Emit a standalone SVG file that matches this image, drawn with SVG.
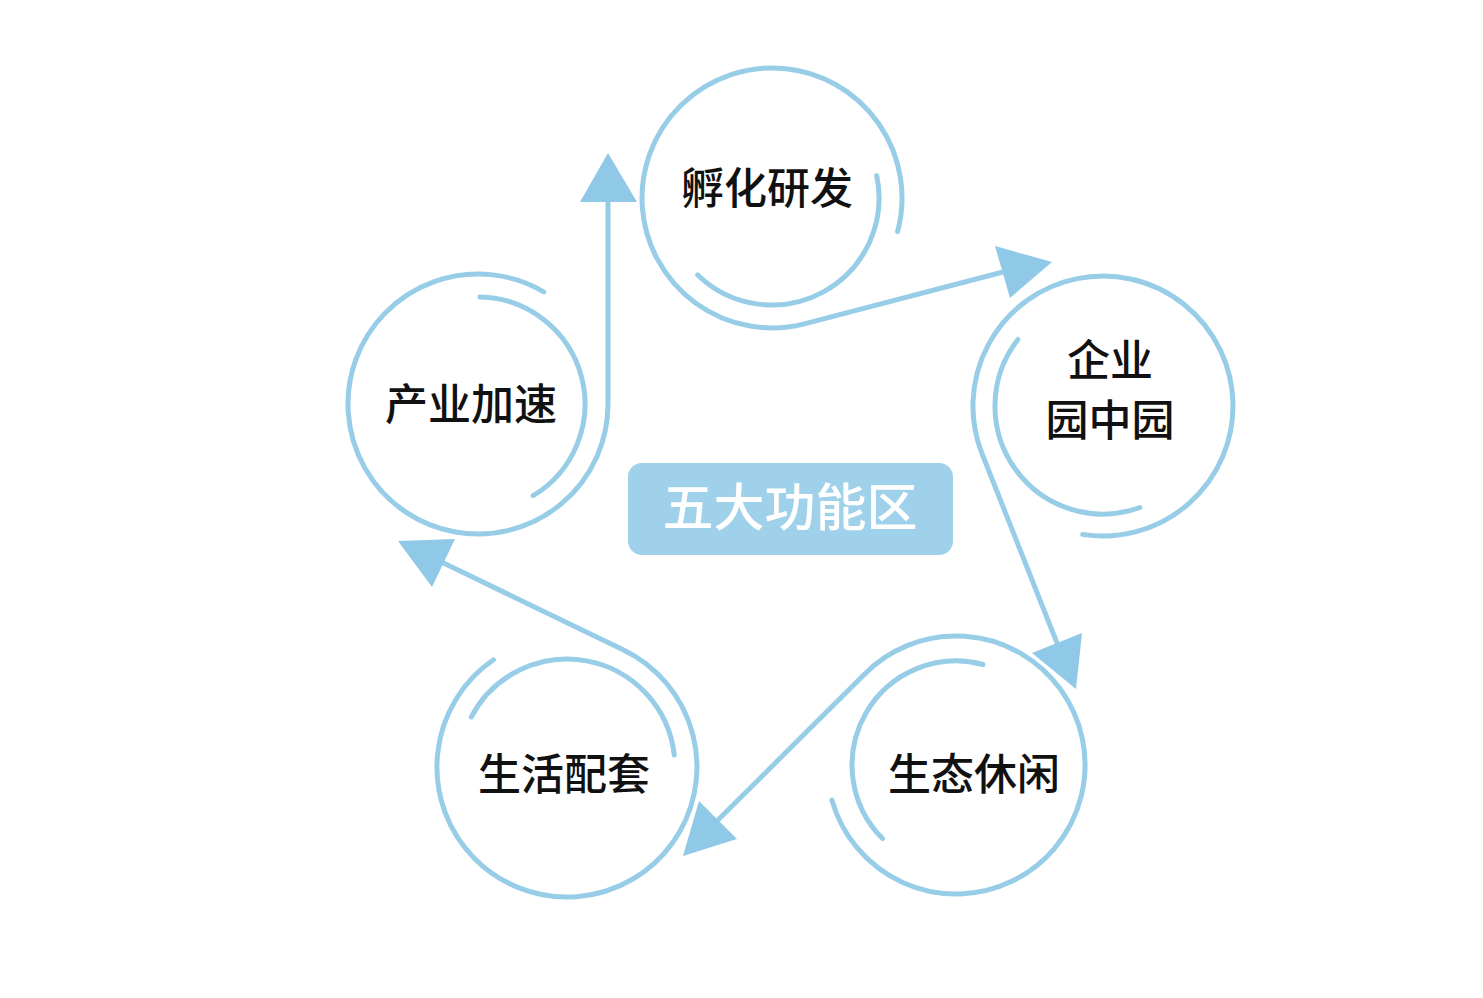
<svg xmlns="http://www.w3.org/2000/svg" width="1483" height="998" viewBox="0 0 1483 998">
<style>
.ring{fill:none;stroke:#98cde8;stroke-width:5;stroke-linecap:round;stroke-linejoin:round}
.head{fill:#90c9e7;stroke:none}
.lbl{font-family:"Noto Sans CJK SC","Noto Sans",sans-serif;font-size:43px;font-weight:500;fill:#111;text-anchor:middle}
.title{font-family:"Noto Sans CJK SC","Noto Sans",sans-serif;font-size:51px;font-weight:500;fill:#ffffff;text-anchor:middle}
</style>
<rect x="0" y="0" width="1483" height="998" fill="#ffffff"/>
<g id="connectors">
<path class="ring" d="M 897.6,231.6 A 130 130 0 1 0 803.4,324.1 L 1003,272"/>
<polygon class="head" points="1052,262 995,246 1010,298"/>
<path class="ring" d="M 1082.7,534.4 A 130 130 0 1 0 982.2,454.1 L 1057,643"/>
<polygon class="head" points="1076,689 1082,633 1032,653"/>
<path class="ring" d="M 831.9,800.1 A 129 129 0 1 0 863.2,675.4 L 718,820"/>
<polygon class="head" points="683,856 699,801 737,839"/>
<path class="ring" d="M 493.4,659.8 A 130 130 0 1 0 623.6,650 L 443.5,563"/>
<polygon class="head" points="398,541 455,539 432,587"/>
<path class="ring" d="M 543.8,291.9 A 130 130 0 1 0 608,404 L 608,202"/>
<polygon class="head" points="608,153 580,202 637,202"/>
</g>
<g id="node-fuhua">
<path class="ring" d="M 876.7,175.8 A 107 107 0 0 1 697.7,275"/>
<text class="lbl" x="767" y="204">孵化研发</text>
</g>
<g id="node-qiye">
<path class="ring" d="M 1017.9,339.5 A 108 108 0 0 0 1139.9,507.5"/>
<text class="lbl" x="1110" y="376">企业</text>
<text class="lbl" x="1110" y="436">园中园</text>
</g>
<g id="node-shengtai">
<path class="ring" d="M 982.9,664.5 A 104 104 0 0 0 882.5,838.5"/>
<text class="lbl" x="974" y="790">生态休闲</text>
</g>
<g id="node-shenghuo">
<path class="ring" d="M 471.2,717.1 A 108 108 0 0 1 674.3,755.1"/>
<text class="lbl" x="564" y="790">生活配套</text>
</g>
<g id="node-chanye">
<path class="ring" d="M 479.9,297 A 107 107 0 0 1 533.1,495.7"/>
<text class="lbl" x="471" y="420">产业加速</text>
</g>
<g id="center">
<rect x="628" y="463" width="325" height="92" rx="14" fill="#9fd2ea"/>
<text class="title" x="790" y="526">五大功能区</text>
</g>
</svg>
